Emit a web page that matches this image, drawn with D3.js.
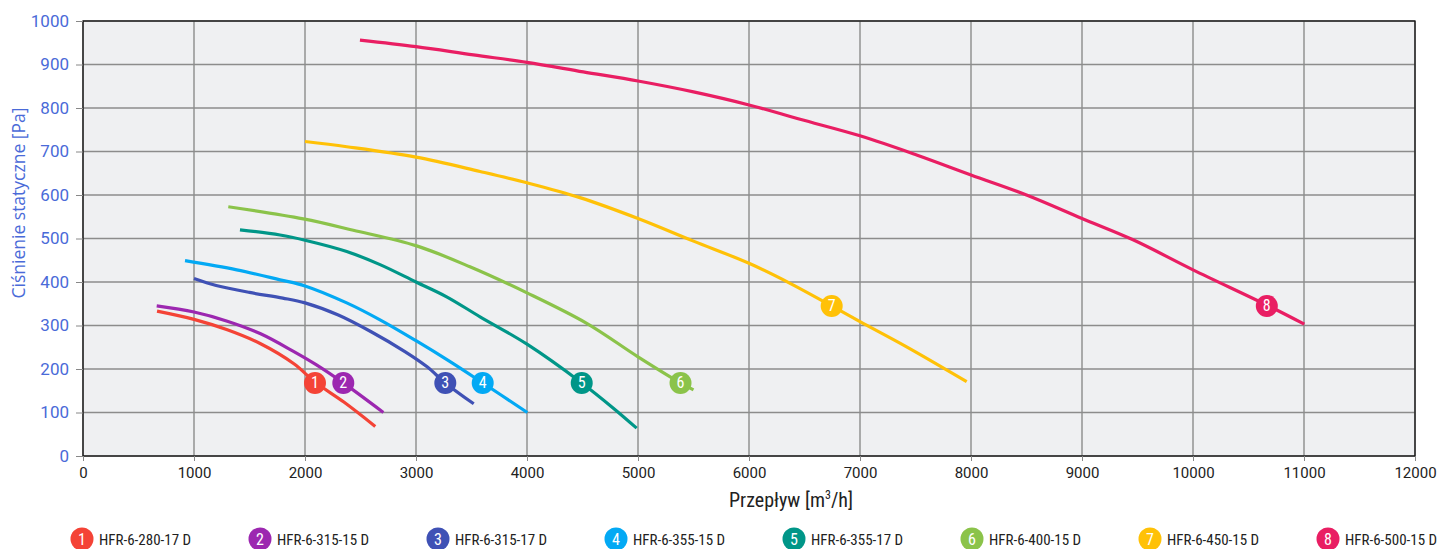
<!DOCTYPE html>
<html><head><meta charset="utf-8">
<script src="https://cdn.jsdelivr.net/npm/d3@7"></script>
<style>
html,body{margin:0;padding:0;background:#fff;}
svg{display:block;}
</style></head>
<body>
<svg id="chart" width="1439" height="549"></svg>
<script>
// ---- data ----
const seriesNames = ["HFR-6-280-17 D","HFR-6-315-15 D","HFR-6-315-17 D","HFR-6-355-15 D","HFR-6-355-17 D","HFR-6-400-15 D","HFR-6-450-15 D","HFR-6-500-15 D"];
const seriesColors = ["#f44336","#9c27b0","#3f51b5","#03a9f4","#009688","#8bc34a","#ffc107","#e91e63"];

const flow1 = [667, 1000, 1300, 1600, 1900, 2090, 2350, 2633];
const pres1 = [333, 314, 290, 258, 212, 170, 124, 68];
const flow2 = [664, 1000, 1300, 1600, 1900, 2100, 2345, 2706];
const pres2 = [345, 331, 310, 281, 240, 210, 168, 100];
const flow3 = [1000, 1200, 1500, 1800, 2000, 2300, 2600, 2900, 3100, 3264, 3520];
const pres3 = [408, 392, 376, 363, 352, 324, 285, 240, 205, 168, 120];
const flow4 = [919, 1385, 1775, 2000, 2376, 2676, 3000, 3300, 3601, 4003];
const pres4 = [449, 428, 405, 391, 352, 313, 265, 218, 168, 100];
const flow5 = [1414, 1775, 2000, 2376, 2676, 3000, 3276, 3577, 4000, 4493, 4778, 4988];
const pres5 = [520, 508, 496, 470, 440, 400, 366, 320, 257, 168, 110, 64];
const flow6 = [1309, 1985, 2435, 3006, 3486, 4000, 4538, 5000, 5383, 5500];
const pres6 = [573, 545, 519, 483, 435, 375, 305, 228, 168, 152];
const flow7 = [2000, 2376, 3000, 3577, 4000, 4477, 5000, 5500, 6000, 6370, 6745, 7000, 7420, 7961];
const pres7 = [723, 711, 687, 654, 628, 594, 546, 494, 443, 397, 345, 309, 251, 171];
const flow8 = [2495, 3000, 3517, 4000, 4507, 5000, 5500, 6000, 6460, 7000, 7510, 8000, 8500, 9000, 9460, 10000, 10665, 11003];
const pres8 = [956, 941, 922, 905, 883, 862, 837, 807, 774, 736, 692, 646, 600, 546, 497, 428, 347, 303];

const labelFlow = [2090, 2345, 3264, 3601, 4493, 5383, 6745, 10665];
const labelPres = [168, 168, 168, 168, 168, 168, 345, 345];

const xTicks = [0,1000,2000,3000,4000,5000,6000,7000,8000,9000,10000,11000,12000];
const yTicks = [0,100,200,300,400,500,600,700,800,900,1000];

const flows = [flow1,flow2,flow3,flow4,flow5,flow6,flow7,flow8];
const press = [pres1,pres2,pres3,pres4,pres5,pres6,pres7,pres8];

// ---- layout ----
const svg = d3.select("#chart");
const L = 83, R = 1415, T = 21, B = 456;
const x = d3.scaleLinear().domain([0,12000]).range([L,R]);
const y = d3.scaleLinear().domain([0,1000]).range([B,T]);

const tickFont = "Roboto, 'Noto Sans', sans-serif";
const condFont = "'Liberation Sans Narrow','Roboto Condensed','Arial Narrow',Roboto,sans-serif";

svg.append("rect").attr("x",L).attr("y",T).attr("width",R-L).attr("height",B-T).attr("fill","#eff0f2");

// grid
svg.append("g").selectAll("line").data(xTicks).join("line")
  .attr("x1",d=>x(d)).attr("x2",d=>x(d)).attr("y1",T).attr("y2",B)
  .attr("stroke","#8c8c8c").attr("stroke-width",1.4);
svg.append("g").selectAll("line").data(yTicks).join("line")
  .attr("y1",d=>y(d)).attr("y2",d=>y(d)).attr("x1",L).attr("x2",R)
  .attr("stroke","#8c8c8c").attr("stroke-width",1.4);

// border
svg.append("rect").attr("x",L).attr("y",T).attr("width",R-L).attr("height",B-T)
  .attr("fill","none").attr("stroke","#111").attr("stroke-width",1.3);

// axes
const xAxis = svg.append("g").attr("transform",`translate(0,${B})`)
  .call(d3.axisBottom(x).tickValues(xTicks).tickFormat(d3.format("d")).tickSize(5).tickPadding(6));
xAxis.select(".domain").remove();
xAxis.selectAll("line").attr("stroke","#888");
xAxis.selectAll("text").attr("font-family",tickFont).attr("font-size",15).attr("fill","#222");

const yAxis = svg.append("g").attr("transform",`translate(${L},0)`)
  .call(d3.axisLeft(y).tickValues(yTicks).tickFormat(d3.format("d")).tickSize(7).tickPadding(7));
yAxis.select(".domain").remove();
yAxis.selectAll("line").attr("stroke","#888");
yAxis.selectAll("text").attr("font-family",tickFont).attr("font-size",17).attr("fill","#4a6ad8");

// axis titles
const xt = svg.append("text").attr("x",791).attr("y",507).attr("text-anchor","middle")
  .attr("font-family",condFont).attr("font-size",20).attr("fill","#222");
xt.append("tspan").text("Przepływ [m");
xt.append("tspan").text("3").attr("font-size",12).attr("dy",-8);
xt.append("tspan").text("/h]").attr("dy",8);

svg.append("text").attr("transform","translate(25,203) rotate(-90)").attr("text-anchor","middle")
  .attr("font-family","'Open Sans', Roboto, sans-serif").attr("font-size",17.5).attr("fill","#4a6ad8")
  .text("Ciśnienie statyczne [Pa]");

// curves
const line = d3.line().x(d=>x(d[0])).y(d=>y(d[1])).curve(d3.curveCatmullRom.alpha(0.5));
const gLines = svg.append("g");
flows.forEach((f,i)=>{
  gLines.append("path").datum(f.map((v,j)=>[v,press[i][j]]))
    .attr("d",line).attr("fill","none").attr("stroke",seriesColors[i]).attr("stroke-width",3.2);
});

// curve labels
const gLab = svg.append("g");
labelFlow.forEach((v,i)=>{
  gLab.append("circle").attr("cx",x(v)).attr("cy",y(labelPres[i])).attr("r",11).attr("fill",seriesColors[i]);
  gLab.append("text").attr("x",x(v)).attr("y",y(labelPres[i])+5.5).attr("text-anchor","middle")
    .attr("font-family",condFont).attr("font-size",16).attr("fill","#fff").text(i+1);
});

// legend
const legX = d3.scalePoint().domain(d3.range(seriesNames.length)).range([82,1328]);
const gLeg = svg.append("g");
seriesNames.forEach((n,i)=>{
  const cx = legX(i);
  gLeg.append("circle").attr("cx",cx).attr("cy",539).attr("r",11.5).attr("fill",seriesColors[i]);
  gLeg.append("text").attr("x",cx).attr("y",545).attr("text-anchor","middle")
    .attr("font-family",condFont).attr("font-size",16).attr("fill","#fff").text(i+1);
  gLeg.append("text").attr("x",cx+17).attr("y",545)
    .attr("font-family",condFont).attr("font-size",15).attr("fill","#222").text(n);
});
</script>
</body></html>
